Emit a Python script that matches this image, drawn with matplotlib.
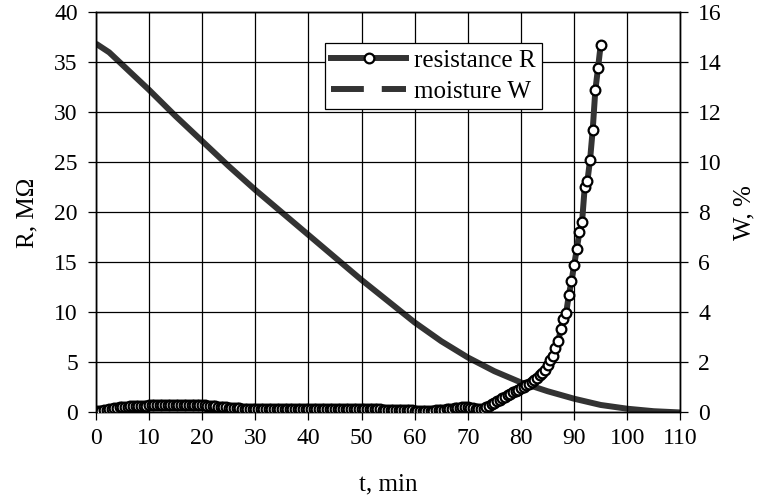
import matplotlib
matplotlib.use("Agg")
import matplotlib.pyplot as plt
from matplotlib.lines import Line2D
import numpy as np

plt.rcParams["font.family"] = ["Liberation Serif", "DejaVu Serif"]
plt.rcParams["font.size"] = 17

# resistance R, MOhm, read every 0.5 min from 0 to 95 min
t_r = np.arange(0, 95.25, 0.5)
r_vals = [
    0.1, 0.1, 0.15, 0.2, 0.25, 0.3, 0.35, 0.4, 0.45, 0.5,
    0.5, 0.55, 0.55, 0.6, 0.6, 0.6, 0.65, 0.65, 0.65, 0.65,   # 0-9.5
    0.7, 0.7, 0.7, 0.7, 0.7, 0.7, 0.7, 0.7, 0.7, 0.7,
    0.7, 0.7, 0.7, 0.7, 0.7, 0.7, 0.7, 0.7, 0.7, 0.7,         # 10-19.5
    0.7, 0.7, 0.65, 0.65, 0.6, 0.6, 0.55, 0.55, 0.5, 0.5,
    0.45, 0.45, 0.4, 0.4, 0.4, 0.35, 0.35, 0.35, 0.35, 0.35,  # 20-29.5
    0.3, 0.3, 0.3, 0.3, 0.3, 0.3, 0.3, 0.3, 0.3, 0.3,
    0.3, 0.3, 0.3, 0.3, 0.3, 0.3, 0.3, 0.3, 0.3, 0.3,         # 30-39.5
    0.3, 0.3, 0.3, 0.3, 0.3, 0.3, 0.3, 0.3, 0.3, 0.3,
    0.3, 0.3, 0.3, 0.3, 0.3, 0.3, 0.3, 0.3, 0.3, 0.3,         # 40-49.5
    0.3, 0.3, 0.3, 0.3, 0.3, 0.3, 0.3, 0.3, 0.25, 0.25,       # 50-54.5
    0.25, 0.25, 0.25, 0.25, 0.2, 0.2, 0.2, 0.2, 0.2, 0.2,
    0.15, 0.15, 0.15, 0.15, 0.15, 0.15, 0.15, 0.15, 0.2, 0.2, # 55-64.5
    0.2, 0.25, 0.3, 0.3, 0.35, 0.4, 0.4, 0.45, 0.5, 0.5,      # 65-69.5
    0.5, 0.45, 0.4, 0.35, 0.3, 0.3,                           # 70-72.5
    0.35, 0.5, 0.65, 0.8, 0.95, 1.1, 1.25, 1.4, 1.55, 1.7,    # 73-77.5
    1.85, 2.0, 2.1, 2.25, 2.4, 2.55, 2.7, 2.85, 3.0, 3.2,     # 78-82.5
    3.45, 3.7, 3.95, 4.25, 4.7, 5.2, 5.6, 6.4, 7.1, 8.3,      # 83-87.5
    9.3, 9.9, 11.7, 13.1, 14.7, 16.3, 18.0, 19.0, 22.5, 23.1, # 88-92.5
    25.2, 28.2, 32.2, 34.4, 36.7,                             # 93-95
]

# moisture W, %
t_w = [0, 2.5, 5, 10, 15, 20, 25, 30, 35, 40, 45, 50, 55, 60, 65, 70,
       75, 80, 85, 90, 95, 100, 105, 110]
w_vals = [14.75, 14.4, 13.9, 12.9, 11.85, 10.85, 9.85, 8.9, 8.0, 7.1, 6.2,
          5.3, 4.45, 3.6, 2.85, 2.2, 1.65, 1.2, 0.85, 0.55, 0.3, 0.15, 0.05, 0.0]

line_col = "#333333"

fig = plt.figure(figsize=(7.61, 5.03), dpi=100)
ax = fig.add_axes([0.126, 0.180, 0.768, 0.7955])
ax2 = ax.twinx()

ax2.plot(t_w, w_vals, "-", color=line_col, lw=4.3, solid_capstyle="butt", zorder=2)
ax.plot(t_r, r_vals, "-", color=line_col, lw=4.3, marker="o", ms=7,
        mfc="white", mec="black", mew=1.6, zorder=3)

ax.set_zorder(ax2.get_zorder() + 1)
ax.patch.set_visible(False)

ax.set_xlim(0, 110)
ax.set_ylim(0, 40)
ax2.set_ylim(0, 16)
ax.set_xticks(np.arange(0, 111, 10))
ax.set_yticks(np.arange(0, 41, 5))
ax2.set_yticks(np.arange(0, 17, 2))
ax.grid(True, color="black", lw=0.9)
ax.set_axisbelow(True)

for a in (ax, ax2):
    a.tick_params(direction="out", length=6, width=0.9, labelsize=17, pad=7)
    for s in a.spines.values():
        s.set_linewidth(1.0)
ax.tick_params(axis="x", pad=5)

ax.set_xlabel("t, min", fontsize=18, labelpad=18)
ax.set_ylabel("R, M\u03a9", fontsize=18, labelpad=11)
ax2.set_ylabel("W, %", fontsize=18, labelpad=8)

h_r = Line2D([], [], color=line_col, lw=4.3, marker="o", ms=7,
             mfc="white", mec="black", mew=1.6)
h_w = Line2D([], [], color=line_col, lw=4.3, dashes=(5.5, 3))
leg = ax.legend([h_r, h_w], ["resistance R", "moisture W"], loc="upper left",
                bbox_to_anchor=(0.392, 0.923), borderaxespad=0, numpoints=1,
                handlelength=3.0, fancybox=False, edgecolor="black",
                framealpha=1, fontsize=18, borderpad=0.25, labelspacing=0.35,
                handletextpad=0.3)
leg.get_frame().set_linewidth(0.9)

fig.savefig("out.png", dpi=100)
